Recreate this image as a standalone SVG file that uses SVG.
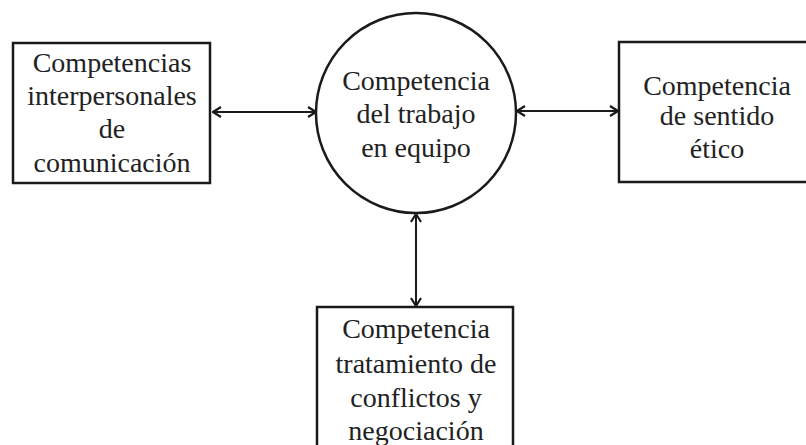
<svg xmlns="http://www.w3.org/2000/svg" width="806" height="445" viewBox="0 0 806 445">
<defs>
<style>
.box{fill:#fff;stroke:#1a1a1a;stroke-width:2.5}
.lbl{font-family:"Liberation Serif","Times New Roman",serif;font-size:28px;fill:#222;text-anchor:middle}
.con{stroke:#1a1a1a;stroke-width:2;fill:none}
</style>
<marker id="arr" viewBox="0 0 12 12" refX="11" refY="6" markerWidth="12" markerHeight="12" markerUnits="userSpaceOnUse" orient="auto-start-reverse">
<path d="M3,1 L11,6 L3,11" fill="none" stroke="#1a1a1a" stroke-width="2.2"/>
</marker>
</defs>
<rect width="806" height="445" fill="#fff"/>
<g id="connectors">
<line class="con" x1="213" y1="112" x2="316" y2="112" marker-start="url(#arr)" marker-end="url(#arr)"/>
<line class="con" x1="517" y1="111" x2="618" y2="111" marker-start="url(#arr)" marker-end="url(#arr)"/>
<line class="con" x1="416" y1="214" x2="416" y2="306" marker-start="url(#arr)" marker-end="url(#arr)"/>
</g>
<g id="node-interpersonales">
<rect class="box" x="13" y="43" width="197" height="140"/>
<text class="lbl" x="112" y="72">Competencias</text>
<text class="lbl" x="112" y="105">interpersonales</text>
<text class="lbl" x="112" y="138">de</text>
<text class="lbl" x="112" y="172">comunicación</text>
</g>
<g id="node-trabajo-equipo">
<circle class="box" cx="416" cy="113" r="100"/>
<text class="lbl" x="416" y="90">Competencia</text>
<text class="lbl" x="416" y="123">del trabajo</text>
<text class="lbl" x="416" y="157">en equipo</text>
</g>
<g id="node-etico">
<rect class="box" x="619" y="42" width="197" height="140"/>
<text class="lbl" x="717" y="95">Competencia</text>
<text class="lbl" x="717" y="125">de sentido</text>
<text class="lbl" x="717" y="158">ético</text>
</g>
<g id="node-conflictos">
<rect class="box" x="317" y="307" width="196" height="160"/>
<text class="lbl" x="416" y="338">Competencia</text>
<text class="lbl" x="416" y="373">tratamiento de</text>
<text class="lbl" x="416" y="407">conflictos y</text>
<text class="lbl" x="416" y="440">negociación</text>
</g>
</svg>
